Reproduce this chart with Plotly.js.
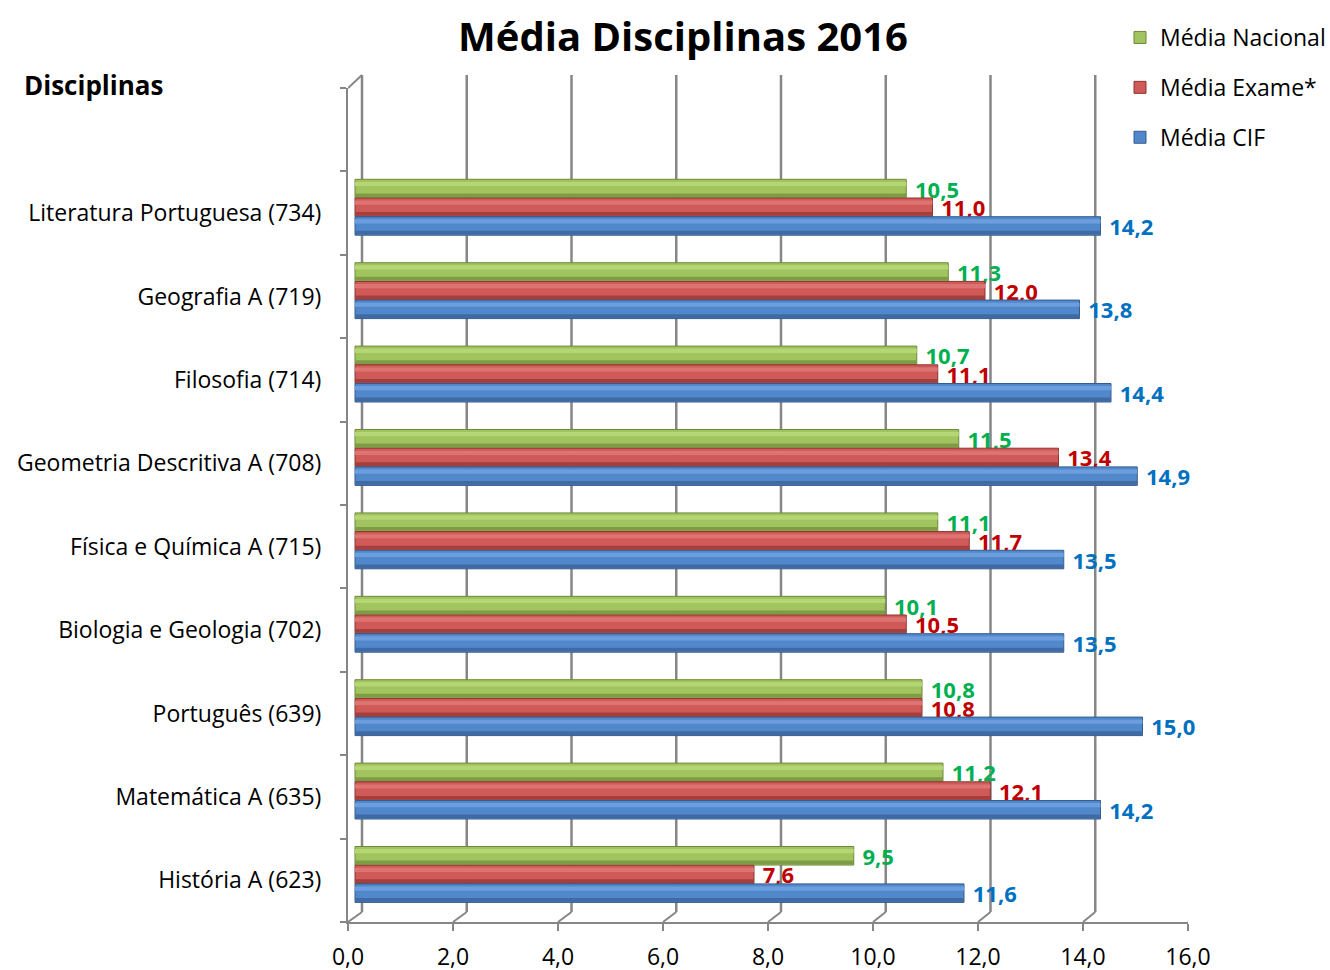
<!DOCTYPE html>
<html><head><meta charset="utf-8">
<script src="https://cdn.plot.ly/plotly-3.0.1.min.js"></script>
<style>html,body{margin:0;padding:0;background:#fff}#chart{width:1330px;height:970px}</style>
</head><body><div id="chart"></div>
<script>
// ---- data ----
const categories = ["História A (623)", "Matemática A (635)", "Português (639)", "Biologia e Geologia (702)",
  "Física e Química A (715)", "Geometria Descritiva A (708)", "Filosofia (714)", "Geografia A (719)",
  "Literatura Portuguesa (734)"];
const mediaNacional = [9.5, 11.2, 10.8, 10.1, 11.1, 11.5, 10.7, 11.3, 10.5];
const mediaExame    = [7.6, 12.1, 10.8, 10.5, 11.7, 13.4, 11.1, 12.0, 11.0];
const mediaCIF      = [11.6, 14.2, 15.0, 13.5, 13.5, 14.9, 14.4, 13.8, 14.2];
const seriesNames = ["Média Nacional", "Média Exame*", "Média CIF"];
const xTicks = [0, 2, 4, 6, 8, 10, 12, 14, 16];

// ---- geometry (pixels) ----
const W = 1330, H = 970;
const L = 348, R = 1188, T = 88, B = 922;         // front face of the plot box
const pw = R - L, ph = B - T;
const pxPerUnit = pw / 16;
const backDX = 14, backScale = 52.375, backBottomDY = 10, backTopY = 75;
const barShiftPx = 7;                              // bars sit a little behind the front face

const allCats = categories.concat([" "]);
const grey = "#868686";

const barW = 0.222, step = 0.224, centerShift = 0.07;
const seriesStyle = [
  {vals: mediaNacional, name: seriesNames[0], fill: "#A2C45E", line: "#6C893A", hi: "#B6D675", lo: "#7E9C46", txt: "#00B050", pos: 1},
  {vals: mediaExame,    name: seriesNames[1], fill: "#D05A57", line: "#8C3432", hi: "#DE7471", lo: "#A53F3C", txt: "#C00000", pos: 0},
  {vals: mediaCIF,      name: seriesNames[2], fill: "#5188CC", line: "#365C8E", hi: "#6C9EDD", lo: "#3F6AA3", txt: "#0070C0", pos: -1}
];

const fmt = v => v.toFixed(1).replace(".", ",");
const traces = [];
seriesStyle.forEach((s, i) => {
  const c = centerShift + s.pos * step;
  traces.push({
    type: "bar", orientation: "h", name: s.name, legendgroup: "g" + i,
    x: s.vals, y: categories, xaxis: "x2", yaxis: "y",
    width: barW, offset: c - barW / 2,
    marker: {color: s.fill, line: {color: s.line, width: 1}},
    text: s.vals.map(v => "\u00a0" + fmt(v)), textposition: "outside", constraintext: "none",
    textfont: {family: "Open Sans", size: 22, color: s.txt, weight: 700},
    cliponaxis: false, hoverinfo: "x+name"
  });
});
// cylinder shading strips (same values, decorative)
seriesStyle.forEach((s, i) => {
  const c = centerShift + s.pos * step;
  traces.push({
    type: "bar", orientation: "h", showlegend: false, legendgroup: "g" + i, x: s.vals, y: categories, xaxis: "x2", yaxis: "y",
    width: 0.05, offset: c + 0.03, marker: {color: s.hi, line: {width: 0}}, hoverinfo: "skip"
  });
  traces.push({
    type: "bar", orientation: "h", showlegend: false, legendgroup: "g" + i, x: s.vals, y: categories, xaxis: "x2", yaxis: "y",
    width: 0.045, offset: c - barW / 2 + 0.008, marker: {color: s.lo, line: {width: 0}}, hoverinfo: "skip"
  });
});

// ---- 3D frame shapes derived from the axis ticks ----
const backX = v => (backDX + backScale * v) / pxPerUnit;   // back-wall position in front-axis units
const yBackBottom = backBottomDY / ph;
const yBackTop = (B - backTopY) / ph;
const shapes = [];
const lineStyle = {color: grey, width: 2.5};
xTicks.forEach(v => {
  shapes.push({type: "line", xref: "x", yref: "paper", x0: backX(v), x1: backX(v), y0: yBackBottom, y1: yBackTop, line: lineStyle, layer: "below"});
  shapes.push({type: "line", xref: "x", yref: "paper", x0: v, x1: backX(v), y0: 0, y1: yBackBottom, line: {color: grey, width: 2}, layer: "below"});
});
shapes.push({type: "line", xref: "x", yref: "paper", x0: 0, x1: backX(0), y0: 1, y1: yBackTop, line: {color: grey, width: 2}, layer: "below"});

const layout = {
  width: W, height: H,
  margin: {l: L, r: W - R, t: T, b: H - B, pad: 0, autoexpand: false},
  paper_bgcolor: "#ffffff", plot_bgcolor: "rgba(0,0,0,0)",
  separators: ",.",
  font: {family: "Open Sans", color: "#000000"},
  barmode: "overlay",
  showlegend: true,
  title: {text: "<b>Média Disciplinas 2016</b>", font: {family: "Open Sans", size: 40, color: "#000"},
          x: 683 / W, xref: "container", xanchor: "center", y: 1 - 37 / H, yanchor: "middle"},
  xaxis: {range: [0, 16], tickvals: xTicks, tickformat: ".1f", showgrid: false, zeroline: false,
          showline: true, linecolor: grey, linewidth: 2, ticks: "outside", ticklen: 7, tickwidth: 2, tickcolor: grey,
          tickfont: {size: 23, color: "#000"}, ticklabelstandoff: 6, fixedrange: true},
  xaxis2: {overlaying: "x", range: [-barShiftPx / pxPerUnit, 16 - barShiftPx / pxPerUnit], visible: false, fixedrange: true},
  yaxis: {type: "category", categoryorder: "array", categoryarray: allCats, range: [-0.5, 9.5],
          showgrid: false, zeroline: false, showline: true, linecolor: grey, linewidth: 2,
          ticks: "outside", tickson: "boundaries", ticklen: 6, tickwidth: 2, tickcolor: grey,
          tickfont: {size: 23, color: "#000"}, ticklabelstandoff: 20, fixedrange: true},
  legend: {x: (1120 - L) / pw, xanchor: "left", y: (B - 16) / ph, yanchor: "top",
           bgcolor: "#ffffff", borderwidth: 0, traceorder: "grouped", tracegroupgap: 17,
           font: {size: 23, color: "#000"}, itemwidth: 30},
  annotations: [{text: "<b>Disciplinas</b>", xref: "paper", yref: "paper", x: (22 - L) / pw, xanchor: "left",
                 y: (B - 85) / ph, yanchor: "middle", showarrow: false, font: {size: 26, color: "#000"}}],
  shapes: shapes
};

Plotly.newPlot("chart", traces, layout, {displayModeBar: false, staticPlot: true});
</script>
</body></html>
